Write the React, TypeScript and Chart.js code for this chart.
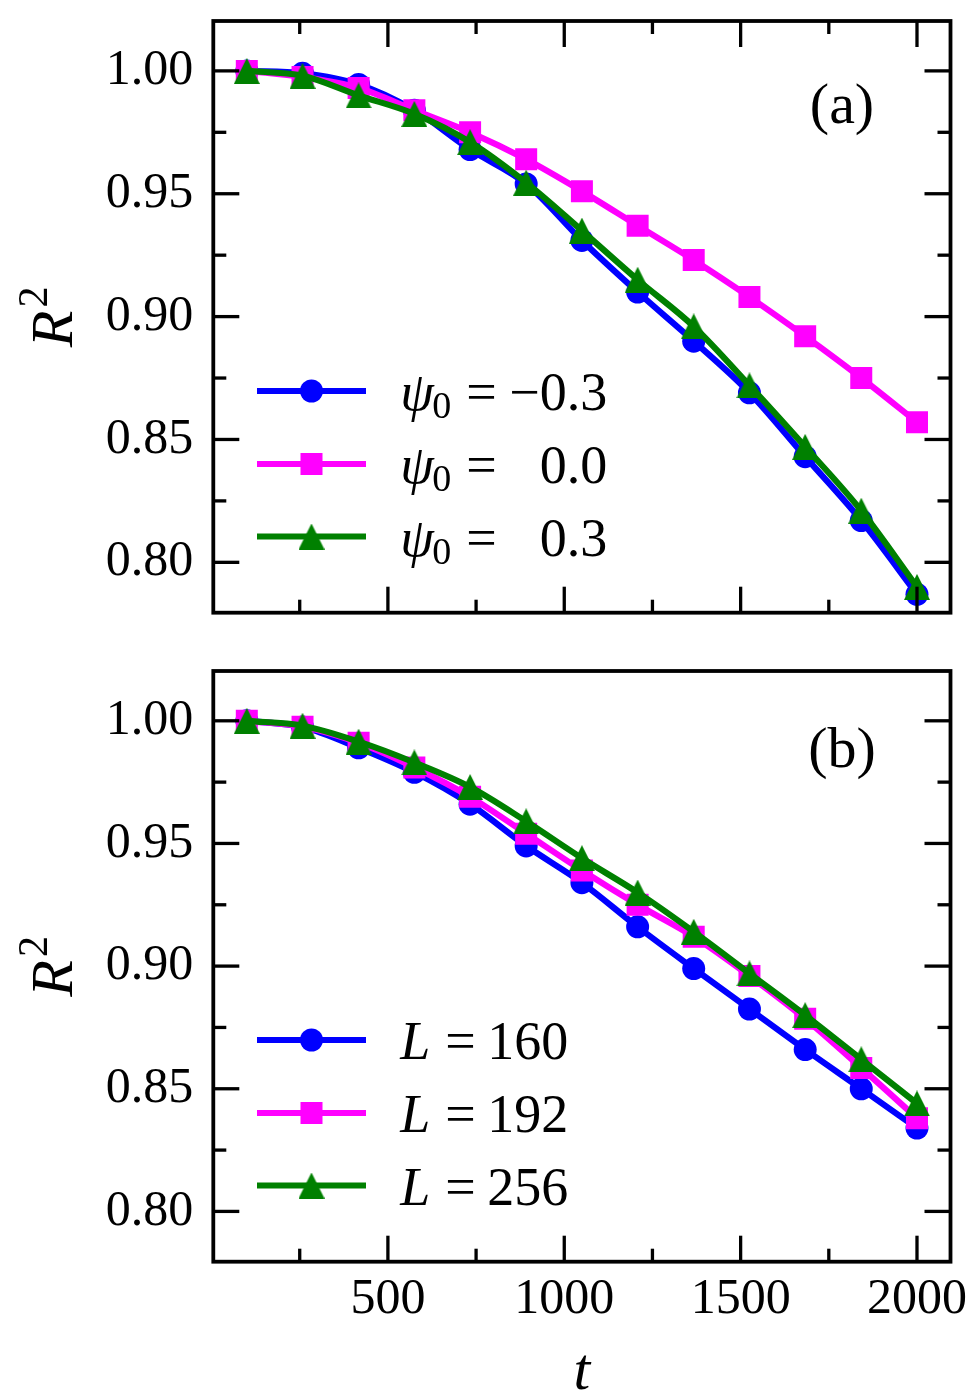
import React, { useEffect, useRef } from "react";
import { Chart, registerables } from "chart.js";

Chart.register(...registerables);

// Sampling times (shared by both panels)
const tValues = [100, 258, 417, 575, 733, 892, 1050, 1208, 1367, 1525, 1683, 1842, 2000];

// Panel (a): different initial order parameter psi0
const r2PsiMinus03 = [1.0, 0.999, 0.9945, 0.984, 0.968, 0.954, 0.931, 0.91, 0.89, 0.869, 0.843, 0.817, 0.787];
const r2Psi00 = [1.0, 0.9975, 0.993, 0.984, 0.975, 0.964, 0.951, 0.937, 0.923, 0.908, 0.892, 0.875, 0.857];
const r2Psi03 = [1.0, 0.998, 0.99, 0.9825, 0.971, 0.9545, 0.935, 0.915, 0.896, 0.872, 0.847, 0.821, 0.79];

// Panel (b): different system sizes L
const r2L160 = [1.0, 0.9975, 0.989, 0.979, 0.966, 0.949, 0.934, 0.916, 0.899, 0.8825, 0.866, 0.85, 0.834];
const r2L192 = [1.0, 0.9976, 0.991, 0.981, 0.969, 0.954, 0.939, 0.925, 0.912, 0.896, 0.8785, 0.8585, 0.838];
const r2L256 = [1.0, 0.998, 0.9915, 0.983, 0.973, 0.959, 0.944, 0.93, 0.914, 0.897, 0.88, 0.862, 0.844];

const psiLabels = ["\u22120.3", "0.0", "0.3"];
const sizeLabels = ["160", "192", "256"];

const xMajorTicks = [500, 1000, 1500, 2000];
const xMinorTicks = [250, 750, 1250, 1750];
const yMajorTicks = [0.8, 0.85, 0.9, 0.95, 1.0];
const yMinorTicks = [0.825, 0.875, 0.925, 0.975];

const X_MIN = 5;
const X_MAX = 2095;
const Y_MIN = 0.7795;
const Y_MAX = 1.0203;

const seriesColors = ["#0000ff", "#ff00ff", "#008000"];
const FONT = "'Liberation Serif', 'Times New Roman', serif";
const LINE_W = 6.2;

function makeTriangle(size: number, color: string): HTMLCanvasElement {
  const c = document.createElement("canvas");
  c.width = size;
  c.height = size;
  const g = c.getContext("2d")!;
  g.fillStyle = color;
  g.beginPath();
  g.moveTo(size / 2, 0);
  g.lineTo(size, size);
  g.lineTo(0, size);
  g.closePath();
  g.fill();
  return c;
}

function drawMarker(ctx: CanvasRenderingContext2D, i: number, x: number, y: number, tri: HTMLCanvasElement) {
  ctx.fillStyle = seriesColors[i];
  if (i === 0) {
    ctx.beginPath();
    ctx.arc(x, y, 11.5, 0, Math.PI * 2);
    ctx.fill();
  } else if (i === 1) {
    ctx.fillRect(x - 11, y - 11, 22, 22);
  } else {
    ctx.drawImage(tri, x - tri.width / 2, y - tri.height / 2);
  }
}

type Decor = {
  tag: string;
  tagBaseline: number; // offset from chart-area top
  topTicks: boolean;
  xTitle: boolean;
  legendText: (ctx: CanvasRenderingContext2D, i: number, left: number, base: number) => void;
};

function decorPlugin(spec: Decor, tri: HTMLCanvasElement) {
  return {
    id: "panelDecor",
    afterDraw(chart: any) {
      const { ctx, chartArea: a, scales } = chart;
      const xs = scales.x;
      const ys = scales.y;
      ctx.save();
      ctx.strokeStyle = "#000";
      ctx.lineCap = "butt";
      ctx.lineWidth = 3.3;
      const seg = (x1: number, y1: number, x2: number, y2: number) => {
        ctx.beginPath();
        ctx.moveTo(x1, y1);
        ctx.lineTo(x2, y2);
        ctx.stroke();
      };
      const MAJ = 26;
      const MIN = 13;
      const xTick = (v: number, len: number) => {
        const p = xs.getPixelForValue(v);
        seg(p, a.bottom, p, a.bottom - len);
        if (spec.topTicks) seg(p, a.top, p, a.top + len);
      };
      const yTick = (v: number, len: number) => {
        const p = ys.getPixelForValue(v);
        seg(a.left, p, a.left + len, p);
        seg(a.right, p, a.right - len, p);
      };
      xMajorTicks.forEach((v) => xTick(v, MAJ));
      xMinorTicks.forEach((v) => xTick(v, MIN));
      yMajorTicks.forEach((v) => yTick(v, MAJ));
      yMinorTicks.forEach((v) => yTick(v, MIN));

      ctx.lineWidth = 3.8;
      ctx.strokeRect(a.left, a.top, a.right - a.left, a.bottom - a.top);

      // panel tag
      ctx.fillStyle = "#000";
      ctx.font = `58px ${FONT}`;
      ctx.textAlign = "center";
      ctx.textBaseline = "alphabetic";
      ctx.fillText(spec.tag, a.right - 108.5, a.top + spec.tagBaseline);

      // legend
      const rows = [221.7, 148.7, 76.2];
      chart.data.datasets.forEach((ds: any, i: number) => {
        const y = a.bottom - rows[i];
        ctx.strokeStyle = ds.borderColor;
        ctx.lineWidth = LINE_W;
        seg(a.left + 43.7, y, a.left + 152.7, y);
        drawMarker(ctx, i, a.left + 98.2, y, tri);
        ctx.fillStyle = "#000";
        ctx.textAlign = "left";
        spec.legendText(ctx, i, a.left, y + 19);
      });

      // y-axis title R^2
      const cy = (a.top + a.bottom) / 2;
      ctx.save();
      ctx.translate(a.left - 141, cy);
      ctx.rotate(-Math.PI / 2);
      ctx.font = `italic 60px ${FONT}`;
      const rW = ctx.measureText("R").width;
      ctx.font = `42px ${FONT}`;
      const sW = ctx.measureText("2").width;
      const x0 = -(rW + 3 + sW) / 2;
      ctx.fillStyle = "#000";
      ctx.textAlign = "left";
      ctx.font = `italic 60px ${FONT}`;
      ctx.fillText("R", x0, 0);
      ctx.font = `42px ${FONT}`;
      ctx.fillText("2", x0 + rW + 3, -25);
      ctx.restore();

      if (spec.xTitle) {
        ctx.font = `italic 60px ${FONT}`;
        ctx.textAlign = "center";
        ctx.fillStyle = "#000";
        ctx.fillText("t", (a.left + a.right) / 2, a.bottom + 127.3);
      }
      ctx.restore();
    },
  };
}

function zeroPadding(s: any) {
  s.paddingTop = 0;
  s.paddingBottom = 0;
  s.paddingLeft = 0;
  s.paddingRight = 0;
}

function buildConfig(
  series: number[][],
  names: string[],
  tri: HTMLCanvasElement,
  xAxisH: number,
  showXLabels: boolean,
  decor: Decor
): any {
  const styles: any[] = ["circle", "rect", tri];
  const radii = [11.5, 15.56, 13];
  return {
    type: "line",
    data: {
      datasets: series.map((vals, i) => ({
        label: names[i],
        data: tValues.map((t, j) => ({ x: t, y: vals[j] })),
        borderColor: seriesColors[i],
        backgroundColor: seriesColors[i],
        borderWidth: LINE_W,
        pointStyle: styles[i],
        pointRadius: radii[i],
        pointBorderWidth: 0,
        cubicInterpolationMode: "monotone",
        fill: false,
        order: 3 - i,
      })),
    },
    options: {
      responsive: false,
      animation: false,
      devicePixelRatio: 1,
      layout: { padding: { top: 21, right: 24.5, left: 0, bottom: 0 } },
      plugins: { legend: { display: false }, tooltip: { enabled: false } },
      events: [],
      scales: {
        x: {
          type: "linear",
          min: X_MIN,
          max: X_MAX,
          grid: { display: false, drawTicks: false },
          border: { display: false },
          afterBuildTicks: (s: any) => {
            s.ticks = xMajorTicks.map((value) => ({ value }));
          },
          afterFit: (s: any) => {
            s.height = xAxisH;
            zeroPadding(s);
          },
          ticks: {
            display: showXLabels,
            autoSkip: false,
            maxRotation: 0,
            padding: 8.3,
            color: "#000",
            font: { family: FONT, size: 50 },
            callback: (v: any) => String(v),
          },
        },
        y: {
          type: "linear",
          min: Y_MIN,
          max: Y_MAX,
          grid: { display: false, drawTicks: false },
          border: { display: false },
          afterBuildTicks: (s: any) => {
            s.ticks = yMajorTicks.map((value) => ({ value }));
          },
          afterFit: (s: any) => {
            s.width = 213.3;
            zeroPadding(s);
          },
          ticks: {
            padding: 20,
            color: "#000",
            font: { family: FONT, size: 50 },
            callback: (v: any) => Number(v).toFixed(2),
          },
        },
      },
    },
    plugins: [decorPlugin(decor, tri)],
  };
}

const TOP_H = 650;
const BOTTOM_H = 742;

export default function App() {
  const topRef = useRef<HTMLCanvasElement>(null);
  const bottomRef = useRef<HTMLCanvasElement>(null);

  useEffect(() => {
    const tri = makeTriangle(26, seriesColors[2]);

    const psiText = (ctx: CanvasRenderingContext2D, i: number, left: number, base: number) => {
      ctx.textAlign = "left";
      ctx.font = `italic 54px ${FONT}`;
      ctx.fillText("\u03c8", left + 187, base);
      ctx.font = `38px ${FONT}`;
      ctx.fillText("0", left + 219, base + 8);
      ctx.font = `54px ${FONT}`;
      ctx.fillText("=", left + 253, base);
      ctx.textAlign = "right";
      ctx.fillText(psiLabels[i], left + 394, base);
    };
    const sizeText = (ctx: CanvasRenderingContext2D, i: number, left: number, base: number) => {
      ctx.textAlign = "left";
      ctx.font = `italic 54px ${FONT}`;
      ctx.fillText("L", left + 187, base);
      ctx.font = `54px ${FONT}`;
      ctx.fillText("=", left + 232, base);
      ctx.fillText(sizeLabels[i], left + 274, base);
    };

    const c1 = new Chart(
      topRef.current!,
      buildConfig(
        [r2PsiMinus03, r2Psi00, r2Psi03],
        psiLabels.map((p) => `\u03c8\u2080 = ${p}`),
        tri,
        TOP_H - 612.7,
        false,
        { tag: "(a)", tagBaseline: 101.5, topTicks: true, xTitle: false, legendText: psiText }
      )
    );
    const c2 = new Chart(
      bottomRef.current!,
      buildConfig(
        [r2L160, r2L192, r2L256],
        sizeLabels.map((s) => `L = ${s}`),
        tri,
        BOTTOM_H - 611.7,
        true,
        { tag: "(b)", tagBaseline: 95.5, topTicks: false, xTitle: true, legendText: sizeText }
      )
    );
    return () => {
      c1.destroy();
      c2.destroy();
    };
  }, []);

  return (
    <div style={{ position: "absolute", left: 0, top: 0, width: 975, height: 1392, background: "#fff" }}>
      <canvas ref={topRef} width={975} height={TOP_H} style={{ position: "absolute", left: 0, top: 0 }} />
      <canvas ref={bottomRef} width={975} height={BOTTOM_H} style={{ position: "absolute", left: 0, top: TOP_H }} />
    </div>
  );
}
